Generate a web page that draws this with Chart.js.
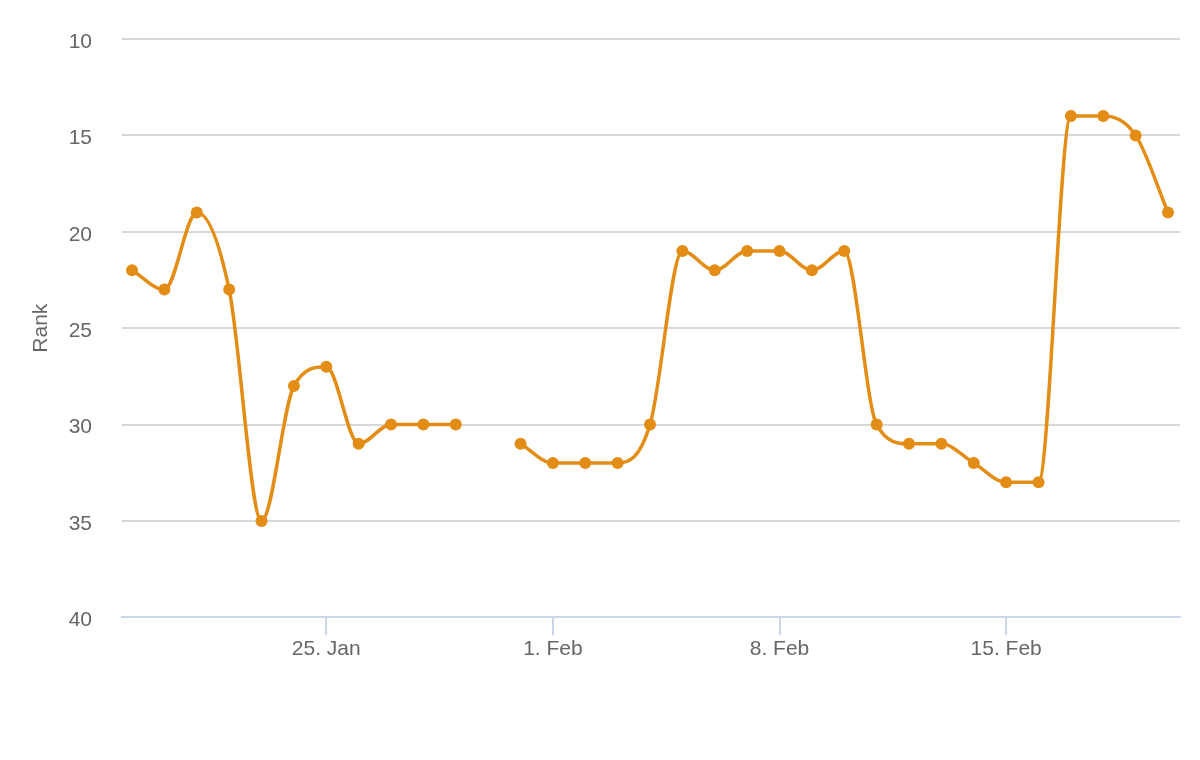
<!DOCTYPE html>
<html>
<head>
<meta charset="utf-8">
<title>Rank</title>
<script src="https://cdn.jsdelivr.net/npm/chart.js@4/dist/chart.umd.min.js"></script>
<style>
  html, body { margin: 0; padding: 0; background: #fff; }
  #wrap { width: 1200px; height: 760px; }
</style>
</head>
<body>
<div id="wrap"><canvas id="myChart"></canvas></div>
<script>
// one point per day, 19 Jan .. 20 Feb (30 Jan has no value)
const days = [
  '19 Jan', '20 Jan', '21 Jan', '22 Jan', '23 Jan', '24 Jan', '25 Jan', '26 Jan',
  '27 Jan', '28 Jan', '29 Jan', '30 Jan', '31 Jan', '1 Feb', '2 Feb', '3 Feb',
  '4 Feb', '5 Feb', '6 Feb', '7 Feb', '8 Feb', '9 Feb', '10 Feb', '11 Feb',
  '12 Feb', '13 Feb', '14 Feb', '15 Feb', '16 Feb', '17 Feb', '18 Feb', '19 Feb', '20 Feb'
];
const ranks = [
  22, 23, 19, 23, 35, 28, 27, 31,
  30, 30, 30, null, 31, 32, 32, 32,
  30, 21, 22, 21, 21, 22, 21, 30,
  31, 31, 32, 33, 33, 14, 14, 15, 19
];
// x-axis ticks: day index and label
const tickDays = [6, 13, 20, 27];
const tickLabels = ['25. Jan', '1. Feb', '8. Feb', '15. Feb'];
const rankTicks = [10, 15, 20, 25, 30, 35, 40];

const font = { family: '"Liberation Sans", Arial, sans-serif', size: 21 };
const orange = '#e38d17';

const ctx = document.getElementById('myChart');

new Chart(ctx, {
  type: 'line',
  data: {
    datasets: [{
      label: 'Rank',
      data: ranks.map((r, i) => ({ x: i, y: r })),
      borderColor: orange,
      backgroundColor: orange,
      borderWidth: 3.5,
      pointRadius: 6,
      pointHoverRadius: 6,
      pointBorderWidth: 0,
      cubicInterpolationMode: 'monotone',
      spanGaps: false
    }]
  },
  options: {
    responsive: true,
    maintainAspectRatio: false,
    animation: false,
    layout: { padding: { top: 39, right: 20, bottom: 97.5, left: 0 } },
    plugins: {
      legend: { display: false },
      tooltip: { enabled: false }
    },
    scales: {
      x: {
        type: 'linear',
        min: -0.31,
        max: 32.37,
        afterBuildTicks: function (scale) {
          scale.ticks = tickDays.map(v => ({ value: v }));
        },
        ticks: {
          autoSkip: false,
          maxRotation: 0,
          color: '#666666',
          font: font,
          padding: 1,
          callback: function (value) {
            const k = tickDays.indexOf(value);
            return k >= 0 ? tickLabels[k] : '';
          }
        },
        grid: {
          drawOnChartArea: false,
          drawTicks: true,
          tickLength: 18,
          color: '#ccd6eb',
          lineWidth: 2
        },
        border: { display: true, color: '#ccd6eb', width: 2 }
      },
      y: {
        reverse: true,
        min: 10,
        max: 40,
        afterBuildTicks: function (scale) {
          scale.ticks = rankTicks.map(v => ({ value: v }));
        },
        afterFit: function (scale) {
          scale.width = 122;
        },
        ticks: {
          color: '#666666',
          font: font,
          padding: 0,
          labelOffset: 3
        },
        grid: {
          color: '#d8d8d8',
          lineWidth: 2,
          drawTicks: true,
          tickLength: 30,
          tickColor: 'rgba(0,0,0,0)'
        },
        border: { display: false },
        title: {
          display: true,
          text: 'Rank',
          color: '#666666',
          font: font,
          padding: { top: 29, bottom: 0 }
        }
      }
    }
  }
});
</script>
</body>
</html>
